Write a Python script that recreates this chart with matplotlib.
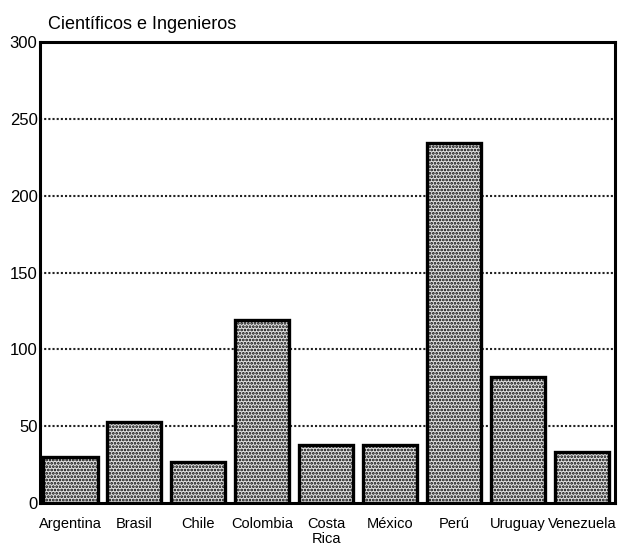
import matplotlib.pyplot as plt
import matplotlib as mpl

plt.rcParams['font.family'] = ['Liberation Sans Narrow', 'Liberation Sans', 'DejaVu Sans']
mpl.rcParams['hatch.linewidth'] = 1.3
mpl.rcParams['hatch.color'] = '#2a2a2a'

# --- DATA ---
countries = ['Argentina', 'Brasil', 'Chile', 'Colombia', 'Costa\nRica',
             'México', 'Perú', 'Uruguay', 'Venezuela']
values = [30, 53, 27, 119, 38, 38, 234, 82, 33]
yticks = [0, 50, 100, 150, 200, 250, 300]

fig = plt.figure(figsize=(6.2, 5.59), dpi=100)
ax = fig.add_axes([0.065, 0.10, 0.927, 0.825])

x = range(len(countries))
ax.bar(x, values, width=0.85, color='#e0e0e0', edgecolor='black',
       linewidth=2.4, hatch='.....', zorder=3)

ax.set_xlim(-0.47, 8.52)
ax.set_ylim(0, 300)
ax.set_yticks(yticks)
ax.set_xticks(list(x))
ax.set_xticklabels(countries, fontsize=10.5, linespacing=1.1)
ax.tick_params(axis='both', length=0)
ax.tick_params(axis='x', pad=10, labelsize=10.5)
ax.tick_params(axis='y', pad=2, labelsize=12)

for v in yticks[1:-1]:
    ax.axhline(v, color='#222222', linestyle=(0, (1, 1)), linewidth=1.5, zorder=1)

for s in ax.spines.values():
    s.set_linewidth(2.2)
    s.set_color('black')

fig.text(0.077, 0.957, 'Científicos e Ingenieros', fontsize=13, ha='left', va='center')

fig.savefig('out.png', dpi=100)
